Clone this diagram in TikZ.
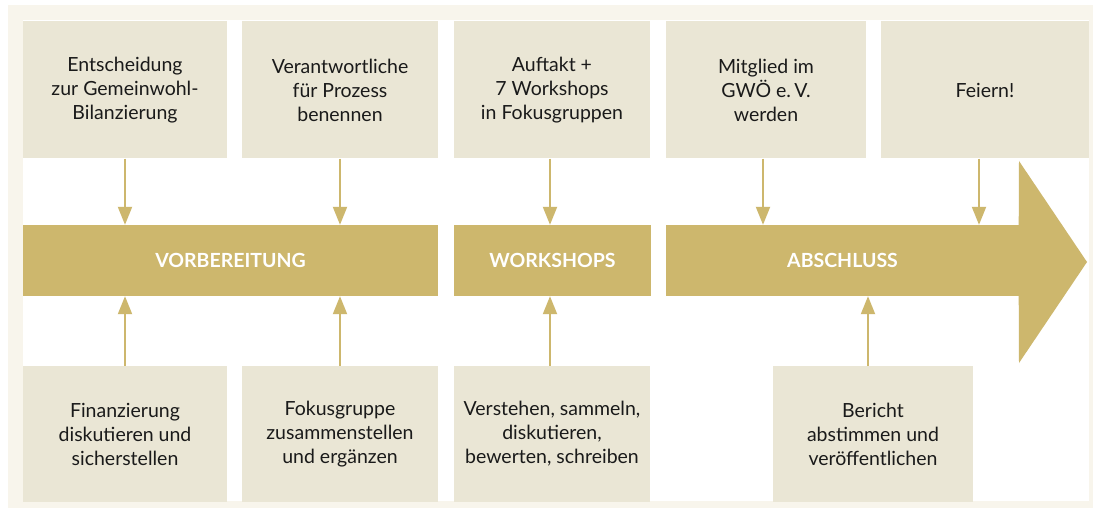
\documentclass[tikz,border=0pt]{standalone}
\usepackage{fontspec}
\setmainfont{Lato}
\usetikzlibrary{arrows.meta}

\definecolor{rahmen}{HTML}{F8F5EC}
\definecolor{kasten}{HTML}{EAE6D5}
\definecolor{gold}{HTML}{CDB76D}
\definecolor{schrift}{HTML}{1A1A1A}

\tikzset{
  schritt/.style={fill=kasten, inner sep=0pt, align=center, text=schrift,
    minimum height=137pt, font=\fontsize{19.5}{24}\selectfont},
  phase/.style={fill=gold, inner sep=0pt, text=white, minimum height=71pt,
    font=\fontsize{19.5}{22}\selectfont\bfseries},
  pfeil/.style={draw=gold, line width=2pt, -{Triangle[width=14pt,length=18pt]}}
}

\begin{document}
\begin{tikzpicture}[x=1pt, y=-1pt]
    \useasboundingbox (0,0) rectangle (1093,508);

    % Rahmen und weisse Flaeche
    \fill[rahmen] (8,5) rectangle (1093,508);
    \fill[white] (23,20) rectangle (1089,501);

    % Obere Reihe
    \node[schritt, minimum width=204pt] (t1) at (125,90) {Entscheidung\\zur Gemeinwohl-\\Bilanzierung};
    \node[schritt, minimum width=196pt] (t2) at (340,90) {Verantwortliche\\für Prozess\\benennen};
    \node[schritt, minimum width=196pt] (t3) at (552,90) {Auftakt +\\7 Workshops\\in Fokusgruppen};
    \node[schritt, minimum width=200pt] (t4) at (766,90) {Mitglied im\\GWÖ e.\,V.\\werden};
    \node[schritt, minimum width=208pt] (t5) at (985,90) {Feiern!};

    % Phasen
    \node[phase, minimum width=415pt] (vorb) at (230.5,260.5) {VORBEREITUNG};
    \node[phase, minimum width=197pt] (work) at (552.5,260.5) {WORKSHOPS};
    \node[phase, minimum width=353pt] (absch) at (842.5,260.5) {ABSCHLUSS};
    \fill[gold] ([xshift=-0.5pt]absch.north east) -- (1019,161) -- (1087,262)
      -- (1019,363) -- ([xshift=-0.5pt]absch.south east) -- cycle;

    % Untere Reihe
    \node[schritt, minimum width=204pt, minimum height=136pt] (b1) at (125,434) {Finanzierung\\diskutieren und\\sicherstellen};
    \node[schritt, minimum width=196pt, minimum height=136pt] (b2) at (340,434) {Fokusgruppe\\zusammenstellen\\und ergänzen};
    \node[schritt, minimum width=196pt, minimum height=136pt] (b3) at (552,434) {Verstehen, sammeln,\\diskutieren,\\bewerten, schreiben};
    \node[schritt, minimum width=200pt, minimum height=136pt] (b4) at (873,434) {Bericht\\abstimmen und\\veröffentlichen};

    % Pfeile von oben
    \draw[pfeil] (t1.south) -- (t1.south |- vorb.north);
    \draw[pfeil] (t2.south) -- (t2.south |- vorb.north);
    \draw[pfeil] ([xshift=-2pt]t3.south) -- ([xshift=-2pt]t3.south |- work.north);
    \draw[pfeil] ([xshift=-3pt]t4.south) -- ([xshift=-3pt]t4.south |- absch.north);
    \draw[pfeil] ([xshift=-6pt]t5.south) -- ([xshift=-6pt]t5.south |- absch.north);

    % Pfeile von unten
    \draw[pfeil] (b1.north) -- (b1.north |- vorb.south);
    \draw[pfeil] (b2.north) -- (b2.north |- vorb.south);
    \draw[pfeil] ([xshift=-2pt]b3.north) -- ([xshift=-2pt]b3.north |- work.south);
    \draw[pfeil] ([xshift=-5pt]b4.north) -- ([xshift=-5pt]b4.north |- absch.south);

  \end{tikzpicture}
\end{document}
